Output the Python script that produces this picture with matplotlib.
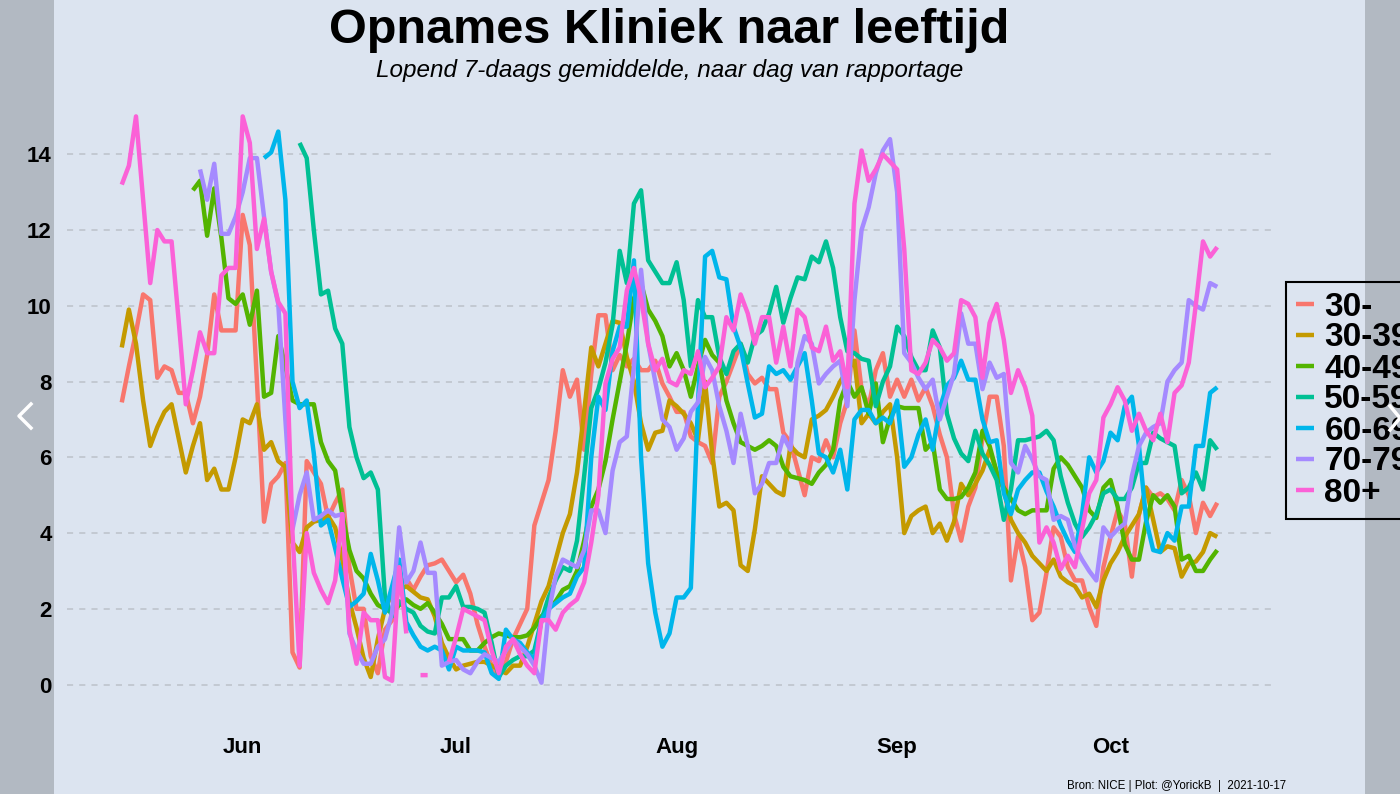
import numpy as np
import pandas as pd
import matplotlib
matplotlib.use('Agg')
import matplotlib.pyplot as plt
from matplotlib.patches import Rectangle
from matplotlib.lines import Line2D

plt.rcParams['font.family'] = ['Liberation Sans', 'DejaVu Sans']

#
# data: 7-day averages per age group, daily from 2021-05-15
#
start_date = '2021-05-15'
N = None

age_30 = [7.45, 8.4, 9.3, 10.3, 10.15, 8.1, 8.4, 8.3, 7.7, 7.7,
          6.9, 7.6, 8.7, 10.3, 9.35, 9.35, 9.35, 12.4, 11.6, 8.0,
          4.3, 5.3, 5.5, 5.85, 0.85, 0.45, 5.9, 5.6, 5.3, 4.4,
          4.8, 5.15, 3.1, 2.0, 2.0, 0.75, 0.3, 1.45, 1.7, 2.6,
          2.8, 2.5, 2.85, 3.15, 3.2, 3.3, 3.0, 2.7, 2.9, 2.4,
          1.6, 1.0, 0.5, 0.2, 0.6, 1.2, 1.6, 2.0, 4.2, 4.8,
          5.4, 6.7, 8.3, 7.6, 8.05, 6.2, 8.2, 9.75, 9.75, 8.3,
          8.7, 8.4, 8.6, 8.3, 8.3, 8.55, 7.95, 7.6, 7.2, 7.2,
          6.55, 6.4, 6.3, 5.85, 7.6, 8.0, 8.5, 9.0, 8.2, 7.95,
          8.1, 7.8, 7.8, 6.65, 6.4, 5.7, 5.0, 6.0, 5.9, 6.45,
          6.0, 6.9, 7.5, 9.35, 7.8, 7.35, 8.3, 8.75, 7.6, 8.05,
          7.6, 8.05, 7.5, 7.85, 7.35, 6.6, 6.0, 4.5, 3.8, 4.7,
          5.2, 6.5, 7.6, 7.6, 6.3, 2.75, 3.9, 3.1, 1.7, 1.9,
          2.95, 4.15, 3.9, 3.1, 2.75, 2.75, 2.05, 1.55, 3.1, 3.9,
          4.6, 4.25, 2.85, 4.5, 5.2, 4.95, 5.05, 4.9, 4.6, 5.4,
          5.0, 4.0, 4.8, 4.45, 4.8]

age_30_39 = [8.9, 9.9, 9.0, 7.5, 6.3, 6.8, 7.2, 7.4, 6.5, 5.6,
             6.3, 6.9, 5.4, 5.7, 5.15, 5.15, 6.0, 7.0, 6.9, 7.4,
             6.2, 6.4, 5.9, 5.75, 3.75, 3.5, 4.15, 4.3, 4.35, 4.45,
             4.15, 3.3, 2.2, 1.5, 0.7, 0.2, 1.2, 2.0, 2.4, 2.5,
             2.6, 2.45, 2.3, 2.25, 1.8, 1.1, 0.7, 0.4, 0.5, 0.55,
             0.6, 0.6, 0.5, 0.4, 0.3, 0.5, 0.5, 1.0, 1.6, 2.2,
             2.6, 3.3, 4.0, 4.5, 5.6, 7.2, 8.9, 8.4, 9.0, 9.6,
             9.55, 8.65, 8.0, 6.9, 6.2, 6.65, 6.7, 7.5, 7.35, 7.15,
             6.9, 6.45, 8.0, 6.1, 4.7, 4.8, 4.6, 3.15, 3.0, 4.1,
             5.5, 5.3, 5.1, 5.0, 6.3, 6.1, 6.0, 7.0, 7.1, 7.25,
             7.6, 8.0, 8.3, 8.55, 6.9, 7.15, 6.9, 7.2, 7.4, 6.0,
             4.0, 4.45, 4.6, 4.7, 4.0, 4.25, 3.8, 4.3, 5.3, 5.0,
             5.3, 5.65, 6.2, 5.6, 5.15, 4.35, 4.0, 3.75, 3.4, 3.2,
             3.0, 3.3, 2.85, 2.7, 2.6, 2.3, 2.4, 2.05, 2.75, 3.2,
             3.5, 3.9, 4.2, 4.5, 5.2, 4.35, 3.5, 3.65, 3.6, 2.85,
             3.2, 3.25, 3.5, 4.0, 3.9]

age_40_49 = [N, N, N, N, N, N, N, N, N, N,
             13.05, 13.3, 11.85, 13.1, 11.8, 10.2, 10.05, 10.3, 9.5, 10.4,
             7.6, 7.7, 9.2, 8.4, 7.5, 7.4, 7.4, 7.4, 6.4, 5.9,
             5.65, 4.5, 3.55, 3.0, 2.8, 2.4, 2.1, 2.0, 1.9, 2.1,
             2.25, 2.1, 2.0, 2.15, 1.9, 1.6, 1.2, 1.2, 1.2, 0.9,
             0.9, 1.1, 1.25, 1.35, 1.3, 1.25, 1.25, 1.3, 1.5, 1.8,
             2.0, 2.2, 2.5, 2.6, 3.0, 3.8, 4.7, 5.15, 5.9, 7.0,
             8.0, 9.0, 10.2, 10.6, 9.9, 9.6, 9.2, 8.4, 8.75, 8.3,
             7.6, 8.4, 9.1, 8.7, 8.5, 7.5, 6.9, 6.4, 6.3, 6.2,
             6.3, 6.45, 6.3, 5.75, 5.5, 5.45, 5.4, 5.3, 5.6, 5.8,
             6.2, 7.5, 8.0, 7.6, 7.85, 7.15, 7.95, 6.4, 7.05, 7.35,
             7.3, 7.3, 7.3, 6.2, 6.4, 5.15, 4.9, 4.9, 4.95, 5.2,
             5.6, 6.7, 6.3, 5.6, 5.2, 4.9, 4.6, 4.5, 4.6, 4.6,
             4.6, 5.7, 6.0, 5.8, 5.5, 5.2, 4.6, 4.4, 5.2, 5.4,
             4.7, 3.7, 3.3, 3.3, 4.3, 5.0, 4.8, 5.0, 4.7, 3.3,
             3.4, 3.0, 3.0, 3.3, 3.55]

age_50_59 = [N, N, N, N, N, N, N, N, N, N,
             N, N, N, N, N, N, N, N, N, N,
             N, N, N, N, N, 14.3, 13.9, 12.0, 10.3, 10.4,
             9.4, 9.0, 6.8, 6.0, 5.45, 5.6, 5.15, 2.3, 1.8, 2.2,
             2.0, 1.9, 1.55, 1.4, 1.35, 2.3, 2.3, 2.6, 2.05, 2.05,
             2.0, 1.9, 1.1, 0.2, 0.5, 0.65, 0.75, 0.75, 0.9, 1.7,
             2.3, 2.75, 3.1, 3.0, 3.8, 5.5, 7.3, 7.8, 8.5, 9.5,
             11.45, 10.6, 12.7, 13.05, 11.2, 10.9, 10.6, 10.6, 11.15, 10.15,
             8.4, 10.15, 9.7, 9.7, 8.65, 8.2, 8.8, 9.0, 8.5, 9.2,
             9.35, 9.8, 10.5, 9.55, 10.2, 10.75, 10.7, 11.3, 11.15, 11.7,
             11.0, 9.7, 8.8, 8.75, 8.6, 8.55, 7.35, 8.0, 8.4, 9.45,
             9.2, 8.65, 8.3, 8.3, 9.35, 8.9, 7.15, 6.5, 6.1, 5.9,
             6.7, 6.1, 5.8, 5.4, 4.35, 5.15, 6.45, 6.45, 6.5, 6.55,
             6.7, 6.45, 5.5, 4.8, 4.25, 3.9, 4.15, 4.5, 5.05, 5.15,
             4.9, 4.9, 5.2, 5.85, 5.85, 6.65, 6.5, 6.4, 6.3, 5.05,
             5.2, 5.6, 5.15, 6.45, 6.2]

age_60_69 = [N, N, N, N, N, N, N, N, N, N,
             N, N, N, N, N, N, N, N, N, N,
             13.9, 14.05, 14.6, 12.8, 8.0, 7.3, 7.5, 6.1, 4.2, 4.35,
             3.6, 2.8, 2.05, 2.2, 2.4, 3.45, 2.75, 1.9, 2.6, 3.3,
             1.65, 1.3, 1.0, 0.9, 1.0, 0.9, 0.4, 1.0, 0.9, 0.9,
             0.9, 0.85, 0.3, 0.15, 1.45, 1.2, 1.1, 0.85, 0.65, 1.7,
             2.0, 2.15, 2.3, 2.4, 2.85, 3.1, 6.0, 7.6, 7.25, 8.8,
             9.45, 9.45, 11.2, 6.0, 3.2, 1.9, 1.0, 1.35, 2.3, 2.3,
             2.55, 7.4, 11.3, 11.45, 10.75, 10.7, 9.45, 8.9, 7.95, 7.05,
             7.15, 8.4, 8.2, 8.3, 8.05, 8.4, 8.75, 7.5, 6.1, 6.0,
             5.6, 6.2, 5.15, 7.0, 7.25, 7.25, 6.9, 7.05, 6.9, 7.5,
             5.75, 6.0, 6.6, 7.0, 6.2, 7.3, 7.9, 8.1, 8.55, 8.05,
             8.05, 7.0, 6.4, 6.45, 5.05, 4.5, 5.15, 5.4, 5.6, 5.6,
             5.1, 4.7, 4.2, 3.8, 3.5, 4.5, 6.0, 5.6, 5.9, 6.65,
             6.45, 7.35, 7.6, 6.3, 4.35, 3.55, 3.5, 4.0, 3.8, 4.7,
             4.7, 6.3, 6.3, 7.7, 7.85]

age_70_79 = [N, N, N, N, N, N, N, N, N, N,
             N, 13.6, 12.8, 13.75, 11.9, 11.9, 12.35, 13.0, 13.9, 13.9,
             12.35, 10.9, 10.05, 7.0, 4.1, 5.0, 5.6, 4.35, 4.45, 4.6,
             4.45, 4.5, 1.35, 0.9, 0.55, 0.55, 1.0, 1.2, 1.9, 4.15,
             2.7, 3.0, 3.75, 2.95, 2.95, 0.5, 0.6, 0.65, 0.4, 0.3,
             0.6, 0.8, 0.7, 0.6, 0.9, 1.2, 1.0, 0.8, 0.5, 0.05,
             1.9, 2.85, 3.3, 3.2, 3.1, 3.55, 4.6, 4.6, 4.0, 5.65,
             6.4, 6.55, 8.4, 10.95, 9.0, 8.0, 7.0, 6.8, 6.2, 6.5,
             7.2, 7.45, 8.65, 8.3, 7.35, 6.7, 5.85, 7.15, 6.3, 5.05,
             5.3, 5.85, 5.85, 6.55, 6.2, 8.5, 9.2, 9.0, 7.95, 8.2,
             8.4, 8.55, 7.35, 10.15, 12.0, 12.6, 13.5, 14.1, 14.4, 13.0,
             8.75, 8.5, 8.1, 7.8, 8.05, 7.0, 7.6, 8.2, 9.8, 9.0,
             9.0, 7.8, 8.5, 8.1, 8.2, 5.85, 5.6, 6.3, 5.95, 5.5,
             5.4, 4.35, 4.45, 4.35, 3.65, 3.3, 3.0, 2.75, 4.15, 3.9,
             4.1, 4.25, 5.5, 6.3, 6.65, 6.8, 6.9, 8.0, 8.3, 8.5,
             10.15, 10.0, 9.9, 10.6, 10.5]

age_80 = [13.2, 13.7, 15.0, 12.8, 10.6, 12.0, 11.7, 11.7, 9.6, 7.4,
          8.3, 9.3, 8.75, 8.75, 10.8, 11.0, 11.0, 15.0, 14.3, 11.5,
          12.3, 10.9, 10.1, 9.8, 4.0, 0.5, 4.0, 2.95, 2.5, 2.15,
          2.75, 4.5, 1.45, 0.55, 1.9, 1.7, 1.7, 0.2, 0.1, 3.1,
          1.35, N, 0.25, 0.25, N, N, 0.6, 1.25, 2.0, 1.9,
          1.8, 1.7, 0.9, 0.3, 1.0, 1.2, 0.8, 0.5, 0.3, 1.7,
          1.7, 1.45, 1.9, 2.1, 2.25, 2.7, 3.75, 5.0, 7.95, 8.6,
          8.9, 10.4, 11.0, 10.2, 9.0, 8.3, 8.6, 8.0, 7.9, 8.3,
          8.2, 8.8, 7.85, 8.1, 8.4, 9.7, 9.35, 10.3, 9.8, 9.0,
          9.7, 9.7, 8.5, 9.45, 8.4, 9.9, 9.7, 8.9, 8.8, 9.45,
          8.55, 8.8, 7.85, 12.7, 14.1, 13.3, 13.6, 14.0, 13.8, 13.6,
          11.5, 8.3, 8.2, 8.5, 9.1, 8.9, 8.55, 8.75, 10.15, 10.05,
          9.7, 8.1, 9.55, 10.05, 9.1, 7.7, 8.3, 7.85, 7.1, 3.75,
          4.15, 3.75, 3.05, 3.4, 3.1, 4.1, 5.05, 5.4, 7.05, 7.4,
          7.85, 7.5, 6.7, 7.15, 6.7, 6.45, 7.15, 6.4, 7.7, 7.9,
          8.5, 10.05, 11.7, 11.3, 11.55]

group_labels = ['30-', '30-39', '40-49', '50-59', '60-69', '70-79', '80+']
group_colors = ['#F8766D', '#C49A00', '#53B400', '#00C094',
                '#00B6EB', '#A58AFF', '#FB61D7']
month_ticks = ['2021-06-01', '2021-07-01', '2021-08-01', '2021-09-01', '2021-10-01']
month_labels = ['Jun', 'Jul', 'Aug', 'Sep', 'Oct']
y_ticks = [0, 2, 4, 6, 8, 10, 12, 14]

title = 'Opnames Kliniek naar leeftijd'
subtitle = 'Lopend 7-daags gemiddelde, naar dag van rapportage'
caption = 'Bron: NICE | Plot: @YorickB  |  2021-10-17'

series = [age_30, age_30_39, age_40_49, age_50_59, age_60_69, age_70_79, age_80]
dates = pd.date_range(start_date, periods=len(age_30))

W, H = 1400, 794
bg = '#DCE4F0'

fig = plt.figure(figsize=(W / 100, H / 100), dpi=100)
fig.patch.set_facecolor(bg)
ax = fig.add_axes([67 / W, 81 / H, 1205 / W, 625 / H])
ax.set_facecolor(bg)

for vals, lab, col in zip(series, group_labels, group_colors):
    ax.plot(dates, np.array(vals, dtype=float), color=col, lw=3.2,
            label=lab, solid_joinstyle='round', solid_capstyle='butt')

# ggplot-like 5% expansion
pad = pd.Timedelta(days=7.7)
ax.set_xlim(dates[0] - pad, dates[-1] + pad)
ax.set_ylim(-0.75, 15.75)

ax.set_yticks(y_ticks)
ax.set_xticks(pd.to_datetime(month_ticks))
ax.set_xticklabels(month_labels)
ax.tick_params(axis='both', length=0, labelsize=16)
ax.tick_params(axis='y', pad=11)
ax.tick_params(axis='x', pad=17)
for lbl in ax.get_xticklabels() + ax.get_yticklabels():
    lbl.set_fontweight('bold')

ax.yaxis.grid(True, color='#BCC1CA', linestyle=(0, (4, 4)), linewidth=1.1)
ax.xaxis.grid(False)
ax.set_axisbelow(True)
for sp in ax.spines.values():
    sp.set_visible(False)

leg = ax.legend(loc='center left', bbox_to_anchor=(1286 / W, 1 - 400 / H),
                bbox_transform=fig.transFigure, frameon=True, fancybox=False,
                edgecolor='black', facecolor=bg, framealpha=1,
                prop={'weight': 'bold', 'size': 24}, handlelength=0.55,
                handletextpad=0.3, labelspacing=0.0, borderpad=0.3,
                borderaxespad=0)
leg.get_frame().set_linewidth(1.5)

fig.text(669.5 / W, 1 - 43 / H, title, ha='center', va='baseline',
         fontsize=35, fontweight='bold')
fig.text(670 / W, 1 - 77 / H, subtitle, ha='center', va='baseline',
         fontsize=17.5, style='italic')
fig.text(1286 / W, 1 - 789 / H, caption, ha='right', va='baseline', fontsize=8.3)

#
# screenshot side overlays and arrows
#
fig.add_artist(Rectangle((0, 0), 54 / W, 1, transform=fig.transFigure,
                         facecolor='black', alpha=0.19, lw=0, zorder=10))
fig.add_artist(Rectangle((1365 / W, 0), 35 / W, 1, transform=fig.transFigure,
                         facecolor='black', alpha=0.19, lw=0, zorder=10))
fig.add_artist(Line2D([31 / W, 19 / W, 31 / W],
                      [1 - 404 / H, 1 - 416 / H, 1 - 428 / H],
                      transform=fig.transFigure, color='white', lw=2.5, zorder=11))
fig.add_artist(Line2D([1390 / W, 1400 / W, 1390 / W],
                      [1 - 406 / H, 1 - 418 / H, 1 - 430 / H],
                      transform=fig.transFigure, color='white', lw=2.5, zorder=11))

fig.savefig('out.png', dpi=100, facecolor=fig.get_facecolor())
